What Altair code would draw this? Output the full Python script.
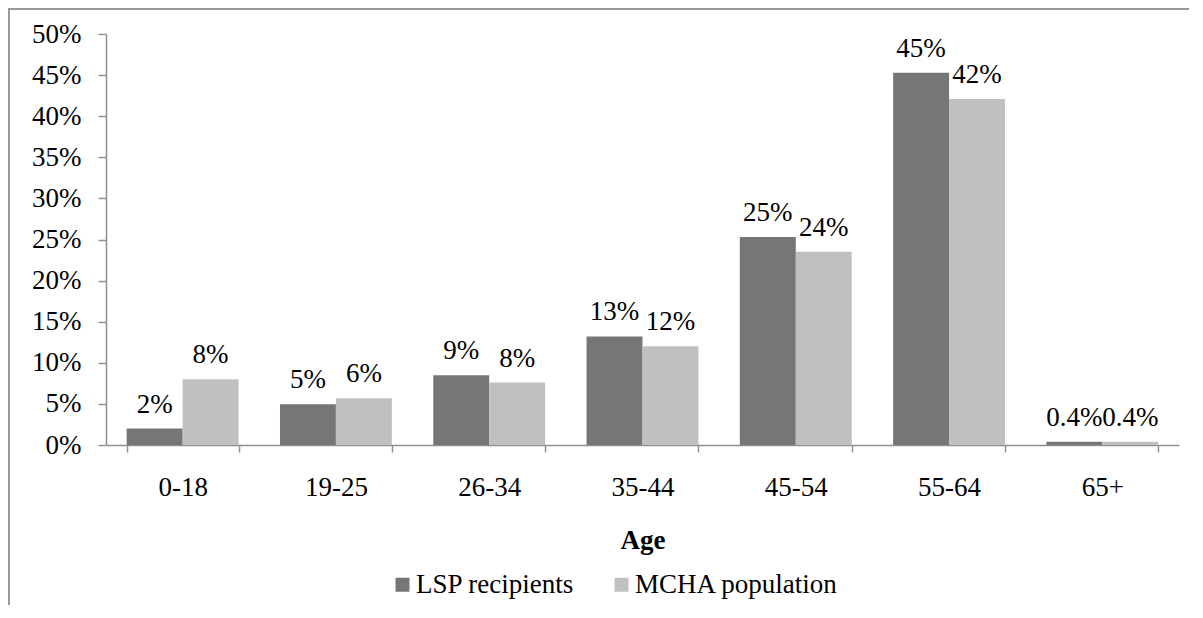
import altair as alt
import pandas as pd

ages = ["0-18", "19-25", "26-34", "35-44", "45-54", "55-64", "65+"]
lsp = [2.0, 4.95, 8.5, 13.2, 25.3, 45.3, 0.4]
mcha = [8.0, 5.7, 7.6, 12.0, 23.5, 42.1, 0.4]
series = ["LSP recipients", "MCHA population"]
colors = ["#767676", "#c0c0c0"]
y_ticks = [0, 5, 10, 15, 20, 25, 30, 35, 40, 45, 50]


def fmt(v):
    return f"{v:.1f}%" if v < 1 else f"{int(v + 0.5)}%"


rows = []
for a, v1, v2 in zip(ages, lsp, mcha):
    rows.append({"age": a, "series": series[0], "value": v1, "label": fmt(v1)})
    rows.append({"age": a, "series": series[1], "value": v2, "label": fmt(v2)})
df = pd.DataFrame(rows)

FONT = "Liberation Serif"
FS = 27

x_enc = alt.X(
    "age:N",
    sort=ages,
    scale=alt.Scale(paddingInner=0.27, paddingOuter=0.135),
    axis=alt.Axis(
        title="Age",
        labelAngle=0,
        tickBand="extent",
        tickSize=7,
        labelPadding=22,
        titlePadding=27,
        titleFontWeight="bold",
    ),
)
y_enc = alt.Y(
    "value:Q",
    scale=alt.Scale(domain=[0, 50]),
    axis=alt.Axis(
        title=None,
        values=y_ticks,
        labelExpr="datum.value + '%'",
        grid=False,
        tickSize=8,
        labelPadding=17,
    ),
)
color_enc = alt.Color(
    "series:N",
    sort=series,
    scale=alt.Scale(domain=series, range=colors),
    legend=alt.Legend(
        title=None,
        orient="none",
        direction="horizontal",
        legendX=283,
        legendY=537,
        symbolType="square",
        symbolSize=196,
        symbolStrokeWidth=0,
        labelOffset=0,
        labelLimit=0,
        columnPadding=33,
    ),
)
xoff = alt.XOffset("series:N", sort=series)

base = alt.Chart(df)
bars = base.mark_bar().encode(x=x_enc, y=y_enc, color=color_enc, xOffset=xoff)
labels = base.mark_text(baseline="alphabetic", dy=-16, font=FONT, fontSize=FS, color="#000000").encode(
    x=x_enc, y=y_enc, xOffset=xoff, text="label:N"
)

frame_left = alt.Chart(pd.DataFrame({"k": [0]})).mark_rule(color="#9a9a9a", strokeWidth=2).encode(
    x=alt.value(-97), y=alt.value(-25), y2=alt.value(575)
)
frame_top = alt.Chart(pd.DataFrame({"k": [0]})).mark_rule(color="#9a9a9a", strokeWidth=2).encode(
    x=alt.value(-98), x2=alt.value(1083), y=alt.value(-25)
)

chart = (
    alt.layer(frame_left, frame_top, bars, labels)
    .properties(
        width=1073,
        height=411,
        autosize=alt.AutoSizeParams(type="none"),
        padding={"left": 98, "top": 26, "right": 10, "bottom": 160},
    )
    .configure_view(stroke=None)
    .configure_axis(
        labelFont=FONT,
        labelFontSize=FS,
        labelColor="#000000",
        titleFont=FONT,
        titleFontSize=FS,
        titleColor="#000000",
        domainColor="#909090",
        domainWidth=1.5,
        tickColor="#909090",
        tickWidth=1.5,
    )
    .configure_legend(labelFont=FONT, labelFontSize=FS, labelColor="#000000")
)

chart.save("out.html", embed_options={"renderer": "svg", "actions": False})
